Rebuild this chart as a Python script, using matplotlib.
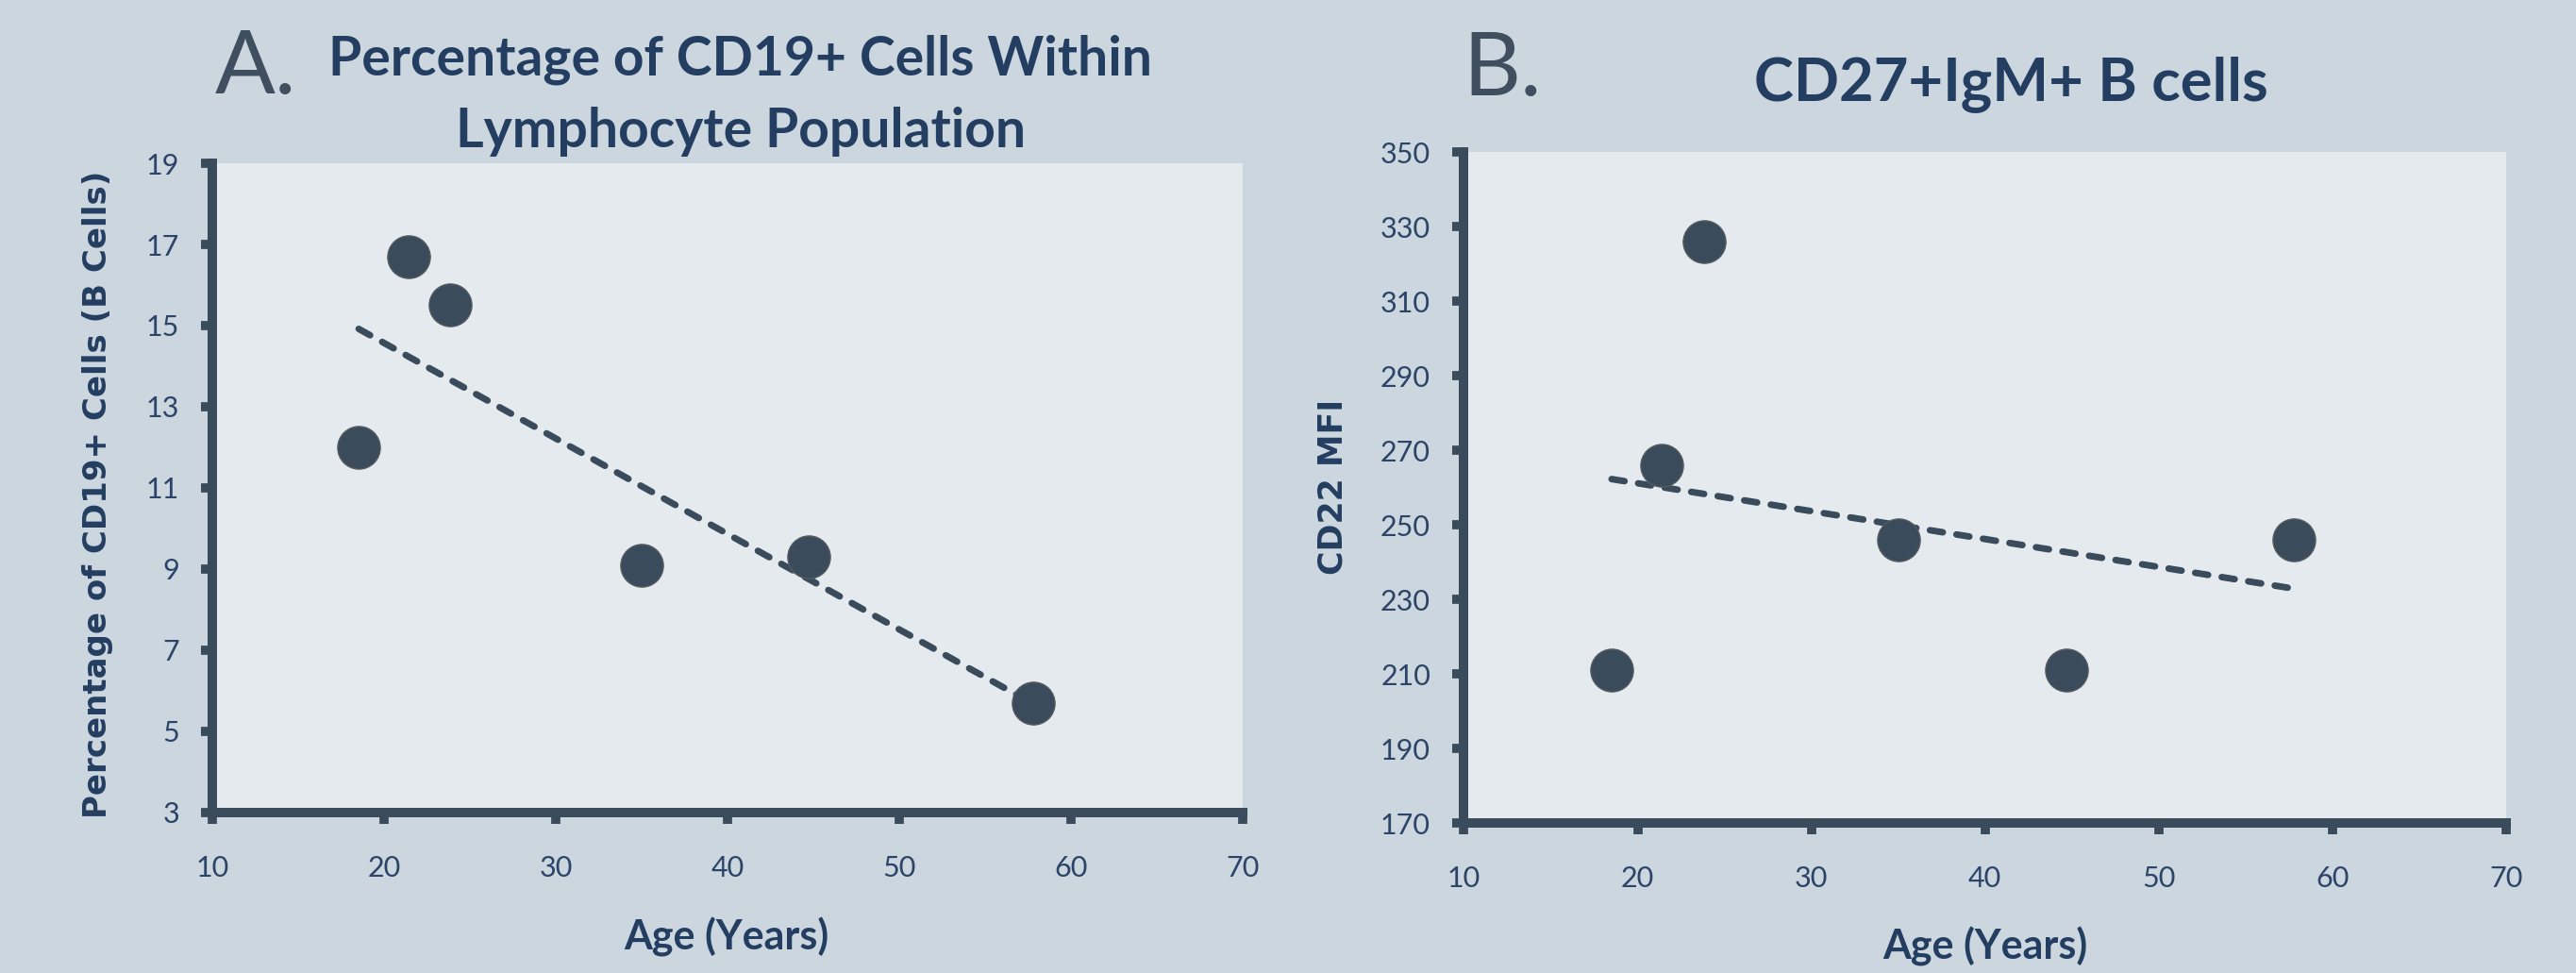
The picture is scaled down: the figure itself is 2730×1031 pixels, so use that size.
import matplotlib.pyplot as plt
import numpy as np

# values
age = [18.5, 21.4, 23.8, 35.0, 44.7, 57.8]
cd19_pct = [12.0, 16.7, 15.5, 9.1, 9.3, 5.7]
cd22_mfi = [211, 266, 326, 246, 211, 246]

x_ticks = [10, 20, 30, 40, 50, 60, 70]
a_ticks = [3, 5, 7, 9, 11, 13, 15, 17, 19]
b_ticks = [170, 190, 210, 230, 250, 270, 290, 310, 330, 350]

bg = "#CCD6DF"
panel = "#E4EAEE"
dark = "#3A4B5C"
navy = "#243E61"
tick_col = "#2C4468"
font = ["Lato", "DejaVu Sans"]


def panel_plot(ax, y, yticks):
    ax.set_facecolor(panel)
    x = np.array(age)
    k, b = np.polyfit(x, np.array(y, dtype=float), 1)
    xs = np.array([x.min(), x.max()])
    ax.plot(xs, k * xs + b, color=dark, lw=5, dashes=(2.0, 2.1),
            dash_capstyle="round", zorder=2)
    ax.plot(age, y, "o", ms=32.5, color=dark, mec="#555a60", mew=1, zorder=3)

    ax.set_xlim(x_ticks[0], x_ticks[-1])
    ax.set_ylim(yticks[0], yticks[-1])
    ax.set_xticks(x_ticks)
    ax.set_yticks(yticks)
    for s in ("top", "right"):
        ax.spines[s].set_visible(False)
    for s in ("left", "bottom"):
        ax.spines[s].set_linewidth(7.2)
        ax.spines[s].set_color(dark)
    ax.tick_params(axis="x", length=8.5, width=7, color=dark, pad=24,
                   labelsize=22, labelcolor=tick_col)
    ax.tick_params(axis="y", length=8.5, width=7, color=dark, pad=17,
                   labelsize=22, labelcolor=tick_col)
    for lab in ax.get_xticklabels() + ax.get_yticklabels():
        lab.set_family(font)


fig = plt.figure(figsize=(27.3, 10.31), dpi=100, facecolor=bg)

ax1 = fig.add_axes([0.0826, 0.1649, 0.3998, 0.6673])
panel_plot(ax1, cd19_pct, a_ticks)
ax2 = fig.add_axes([0.5683, 0.1542, 0.4046, 0.6896])
panel_plot(ax2, cd22_mfi, b_ticks)

# panel letters
fig.text(228 / 2730, 1 - 99.5 / 1031, "A.", fontsize=68, color="#3F4F5F",
         family=font, fontweight="normal", va="baseline", ha="left")
fig.text(1550 / 2730, 1 - 101 / 1031, "B.", fontsize=68, color="#3F4F5F",
         family=font, fontweight="normal", va="baseline", ha="left")

# titles
fig.text(785 / 2730, 1 - 80 / 1031, "Percentage of CD19+ Cells Within",
         fontsize=41, color=navy, family=font, fontweight="bold",
         va="baseline", ha="center")
fig.text(785 / 2730, 1 - 156 / 1031, "Lymphocyte Population",
         fontsize=41, color=navy, family=font, fontweight="bold",
         va="baseline", ha="center")
fig.text(2131 / 2730, 1 - 106 / 1031, "CD27+IgM+ B cells",
         fontsize=45.5, color=navy, family=font, fontweight="bold",
         va="baseline", ha="center")

# axis labels
fig.text(770 / 2730, 1 - 1007 / 1031, "Age (Years)", fontsize=31, color=navy,
         family=font, fontweight="bold", va="baseline", ha="center")
fig.text(2104 / 2730, 1 - 1016 / 1031, "Age (Years)", fontsize=31, color=navy,
         family=font, fontweight="bold", va="baseline", ha="center")
fig.text(104 / 2730, 1 - 524 / 1031, "Percentage of CD19+ Cells (B Cells)",
         fontsize=24.5, color=navy, family="DejaVu Sans", fontweight="bold",
         rotation=90, va="center", ha="center")
fig.text(1412 / 2730, 1 - 516 / 1031, "CD22 MFI",
         fontsize=25, color=navy, family="DejaVu Sans", fontweight="bold",
         rotation=90, va="center", ha="center")

fig.savefig("out.png", dpi=100, facecolor=bg)
